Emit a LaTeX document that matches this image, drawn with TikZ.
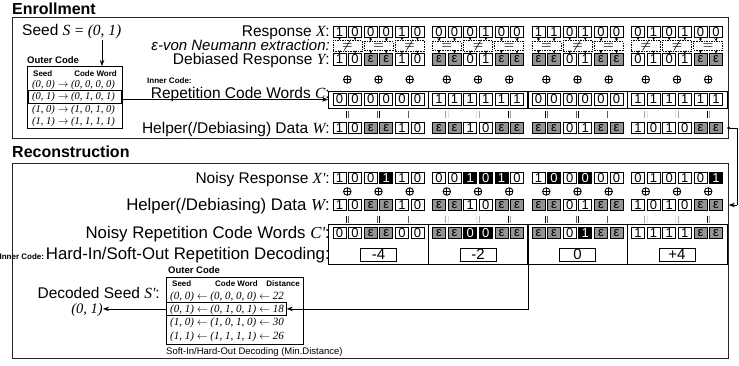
\documentclass[tikz,border=0pt]{standalone}
\usepackage{fontspec}
\setmainfont{Liberation Sans}
\newfontfamily\tms{Liberation Serif}
\usepackage{amsmath}
\usetikzlibrary{arrows.meta,fit}
\newcommand\fs[1]{\fontsize{#1}{#1}\selectfont}
\newcommand\mi[1]{{\tms\itshape #1}}
\expandafter\def\csname ctx0\endcsname{0}
\expandafter\def\csname ctx1\endcsname{1}
\expandafter\def\csname ctxe\endcsname{ε}
\expandafter\def\csname ctxa\endcsname{0}
\expandafter\def\csname ctxb\endcsname{1}
\expandafter\def\csname vnsn\endcsname{\(\boldsymbol{\neq}\)}
\expandafter\def\csname vnse\endcsname{\(\boldsymbol{=}\)}
\tikzset{
  cellbase/.style={draw, line width=0.7pt, minimum width=13pt, minimum height=11.5pt, inner sep=0pt, font=\fs{13}},
  c0/.style={cellbase, fill=white},
  c1/.style={cellbase, fill=white},
  ce/.style={cellbase, fill=black!42},
  ca/.style={cellbase, fill=black, text=white},
  cb/.style={cellbase, fill=black, text=white},
  lbl/.style={anchor=base east, inner sep=0pt, font=\fs{15.5}},
  lblr/.style={anchor=base east, inner sep=0pt, font=\fs{16.8}},
  ttl/.style={anchor=base west, inner sep=0pt, font=\fs{16}\bfseries},
  small/.style={inner sep=0pt, font=\fs{9.5}\bfseries},
  tiny/.style={inner sep=0pt, font=\fs{8}\bfseries},
  tabrow/.style={anchor=base west, inner sep=0pt, font=\fs{10.5}\tms\itshape},
  panel/.style={draw=black!85, line width=0.8pt, anchor=north west, inner sep=0pt},
  vn/.style={draw, dashed, dash pattern=on 1.5pt off 1pt, line width=0.6pt, minimum width=29pt, minimum height=8.5pt, inner sep=0pt, font=\fs{12}},
  tip/.style={line width=0.6pt, -{Stealth[length=3pt,width=3pt]}},
  oplus/.style={circle, draw, line width=0.9pt, minimum size=7.5pt, inner sep=0pt,
    path picture={\draw[line width=0.9pt] (path picture bounding box.north) -- (path picture bounding box.south) (path picture bounding box.west) -- (path picture bounding box.east);}},
  eqv/.style={minimum width=2.5pt, minimum height=7pt, inner sep=0pt,
    path picture={\draw[line width=0.8pt] (path picture bounding box.north west) -- (path picture bounding box.south west) (path picture bounding box.north east) -- (path picture bounding box.south east);}},
  gframe/.style={draw, line width=0.7pt, inner xsep=4.2pt, inner ysep=2.5pt},
  softbox/.style={draw, line width=0.7pt, minimum width=36pt, minimum height=13pt, inner sep=0pt, font=\fs{15}},
  conn/.style={line width=0.7pt},
  arr/.style={line width=0.7pt, -{Stealth[length=6pt,width=4.5pt]}},
  hlbox/.style={draw, line width=0.8pt, inner sep=0pt},
}
\newcommand\cellrow[3]{%
  \foreach \v [count=\k from 0] in {#3} {%
    \pgfmathsetmacro\xx{333+99.5*int(\k/6)+6.5+15.6*mod(\k,6)}%
    \node[c\v] (#1-\k) at (\xx,#2) {\csname ctx\v\endcsname};
  }}
\newcommand\pairx[1]{333+99.5*int(#1/3)+6.5+15.6*(2*mod(#1,3)+0.5)}
\begin{document}
\begin{tikzpicture}[x=1pt,y=-1pt]
\useasboundingbox (0,0) rectangle (739,365);
% ---------------- Enrollment ----------------
\node[ttl] (tEnr) at (12,14.5) {Enrollment};
\node[panel, minimum width=716pt, minimum height=121pt] (enr) at (12,17) {};
\node[anchor=base west, inner sep=0pt, font=\fs{15.5}] (seed) at (22,35) {Seed \mi{S} {\tms =} \mi{(0, 1)}};
\node[small, anchor=base west] (oc1) at (27,63) {Outer Code};
\node[draw, line width=0.8pt, minimum width=95pt, minimum height=62pt, inner sep=0pt, anchor=north west] (ob1) at (27,66) {};
\node[tiny, anchor=base west] (h1a) at (33,76) {Seed};
\node[tiny, anchor=base east] (h1b) at (117,76) {Code Word};
\node[tabrow] (r1a) at (32,87) {(0, 0) \(\rightarrow\) (0, 0, 0, 0)};
\node[tabrow] (r1b) at (32,99.5) {(0, 1) \(\rightarrow\) (0, 1, 0, 1)};
\node[tabrow] (r1c) at (32,112) {(1, 0) \(\rightarrow\) (1, 0, 1, 0)};
\node[tabrow] (r1d) at (32,124) {(1, 1) \(\rightarrow\) (1, 1, 1, 1)};
\node[hlbox, minimum width=93pt, minimum height=13.5pt, anchor=north west] (hlE) at (28,89.5) {};
\coordinate (seedA) at (102,40);
\draw[arr] (seedA) -- (seedA |- ob1.north);
% rows
\cellrow{ex}{32}{1,0,0,0,1,0,0,0,0,1,0,0,1,1,0,1,0,0,0,1,0,1,0,0}
\cellrow{ey}{59.5}{1,0,e,e,1,0,e,e,0,1,e,e,e,e,0,1,e,e,0,1,0,1,e,e}
\cellrow{ec}{99.5}{0,0,0,0,0,0,1,1,1,1,1,1,0,0,0,0,0,0,1,1,1,1,1,1}
\cellrow{ew}{128}{1,0,e,e,1,0,e,e,1,0,e,e,e,e,0,1,e,e,1,0,1,0,e,e}
\foreach \s [count=\p from 0] in {n,e,n,e,n,e,e,n,e,n,n,e} {
  \pgfmathsetmacro\xx{\pairx{\p}}
  \node[vn] (vn-\p) at (\xx,45.8) {\csname vns\s\endcsname};
  \node[oplus] (eo-\p) at (\xx,79.5) {};
  \node[eqv] (eq-\p) at (\xx,114) {};
}
\foreach \k in {0,...,23} {
  \pgfmathtruncatemacro\p{\k/2}
  \draw[tip] (ex-\k.south) -- (ex-\k.south |- vn-\p.north);
  \draw[tip] (ey-\k.north |- vn-\p.south) -- (ey-\k.north);
}
\foreach \g in {0,...,3} {
  \pgfmathtruncatemacro\a{6*\g}\pgfmathtruncatemacro\b{6*\g+5}
  \node[gframe, fit=(ec-\a)(ec-\b)] (ecf-\g) {};
}
\node[lbl] (lX) at (330,36) {Response \mi{X}:};
\node[lbl, font=\fs{15}\itshape] (lVN) at (330,50) {ε-von Neumann extraction:};
\node[lbl] (lY) at (330,64.5) {Debiased Response \mi{Y}:};
\node[tiny, anchor=base west] (ic1) at (147,83) {Inner Code:};
\node[lbl] (lC) at (330,98) {Repetition Code Words \mi{C}:};
\node[lbl] (lW) at (330,133) {Helper(/Debiasing) Data \mi{W}:};
\draw[arr] (hlE.east |- ec-0) -- (ecf-0.west |- ec-0);
% ---------------- Reconstruction ----------------
\node[ttl] (tRec) at (12,157) {Reconstruction};
\node[panel, minimum width=716pt, minimum height=195pt] (rec) at (12,163) {};
\cellrow{rx}{178}{1,0,0,b,1,0,0,0,b,a,b,0,1,a,0,a,0,0,0,1,0,1,0,b}
\cellrow{rw}{205}{1,0,e,e,1,0,e,e,1,0,e,e,e,e,0,1,e,e,1,0,1,0,e,e}
\cellrow{rc}{233}{0,0,e,e,0,0,e,e,a,a,e,e,e,e,0,b,e,e,1,1,1,1,e,e}
\foreach \p in {0,...,11} {
  \pgfmathsetmacro\xx{\pairx{\p}}
  \node[oplus] (ro-\p) at (\xx,191.5) {};
  \node[eqv] (rq-\p) at (\xx,219) {};
}
\foreach \t [count=\g from 0] in {-4,-2,0,+4} {
  \pgfmathsetmacro\xx{333+99.5*\g+45.5}
  \node[softbox] (sv-\g) at (\xx,254.5) {\t};
  \pgfmathtruncatemacro\a{6*\g}\pgfmathtruncatemacro\b{6*\g+5}
  \node[gframe, fit=(rc-\a)(rc-\b)(sv-\g)] (rcf-\g) {};
}
\node[lbl] (lXp) at (330,183) {Noisy Response \mi{X'}:};
\node[lblr] (lWp) at (330,210) {Helper(/Debiasing) Data \mi{W}:};
\node[lblr] (lCp) at (330,238.5) {Noisy Repetition Code Words \mi{C'}:};
\node[lblr] (lHd) at (330,259) {Hard-In/Soft-Out Repetition Decoding:};
\node[tiny, anchor=base east] (ic2) at ([xshift=-1.5pt]lHd.base west) {Inner Code:};
\node[small, anchor=base west] (oc2) at (168,273) {Outer Code};
\node[draw, line width=0.8pt, minimum width=137pt, minimum height=67pt, inner sep=0pt, anchor=north west] (ob2) at (166,277) {};
\node[tiny, anchor=base west] (h2a) at (172,286) {Seed};
\node[tiny, anchor=base west] (h2b) at (215,286) {Code Word};
\node[tiny, anchor=base east] (h2c) at (300,286) {Distance};
\node[tabrow, font=\fs{11}\tms\itshape] (r2a) at (170,299) {(0, 0) \(\leftarrow\) (0, 0, 0, 0) \(\leftarrow\) 22};
\node[tabrow, font=\fs{11}\tms\itshape] (r2b) at (170,312) {(0, 1) \(\leftarrow\) (0, 1, 0, 1) \(\leftarrow\) 18};
\node[tabrow, font=\fs{11}\tms\itshape] (r2c) at (170,325) {(1, 0) \(\leftarrow\) (1, 0, 1, 0) \(\leftarrow\) 30};
\node[tabrow, font=\fs{11}\tms\itshape] (r2d) at (170,339) {(1, 1) \(\leftarrow\) (1, 1, 1, 1) \(\leftarrow\) 26};
\node[hlbox, minimum width=120pt, minimum height=13pt, anchor=north west] (hlR) at (166,302) {};
\node[lbl] (lS) at (160,298.5) {Decoded Seed \mi{S'}:};
\node[lbl, font=\fs{14.5}\tms\itshape] (s01) at (103,313) {(0, 1)};
\node[anchor=base west, inner sep=0pt, font=\fs{9.5}] (shd) at (166,354) {Soft-In/Hard-Out Decoding (Min.Distance)};
\draw[arr] (hlR.west) -- (hlR.west -| s01.east) ;
\coordinate (mid) at (rcf-1.south east);
\draw[arr] (mid) |- (hlR.east);
% helper data transfer
\coordinate (dotW) at (enr.east |- ew-23);
\coordinate (rc1) at (737,0 |- ew-23);
\coordinate (rc2) at (737,0 |- rw-23);
\coordinate (rW) at (rec.east |- rw-23);
\fill (dotW) circle (1.6pt);
\draw[conn] (dotW) -- (rc1) -- (rc2);
\draw[arr] (rc2) -- (rW);
\end{tikzpicture}
\end{document}
